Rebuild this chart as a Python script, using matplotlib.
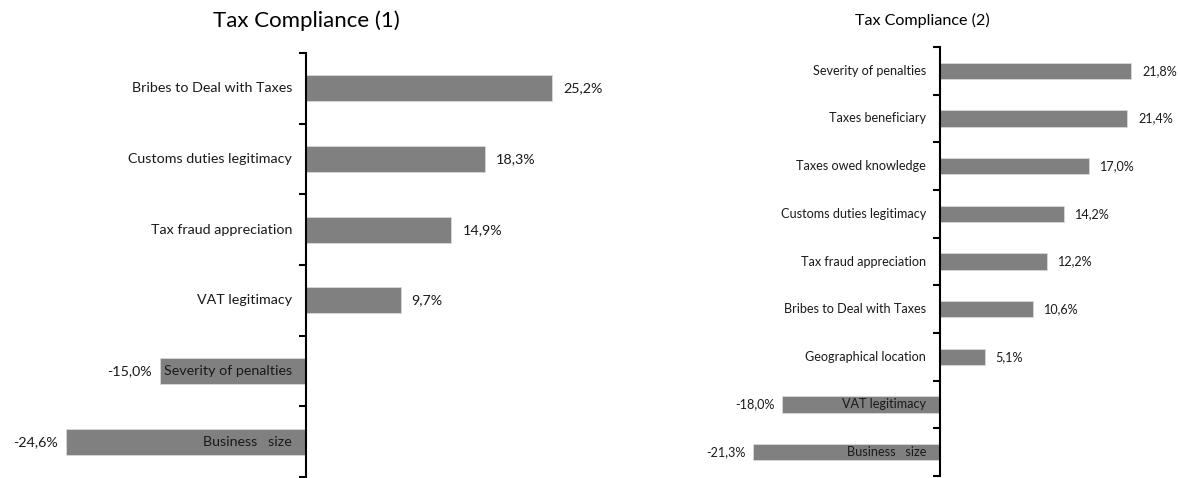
import matplotlib
matplotlib.use('Agg')
import matplotlib.pyplot as plt

plt.rcParams['font.family'] = ['Lato', 'DejaVu Sans']

# Tax Compliance (1)
cats_1 = ['Bribes to Deal with Taxes', 'Customs duties legitimacy', 'Tax fraud appreciation',
          'VAT legitimacy', 'Severity of penalties', 'Business   size']
vals_1 = [25.2, 18.3, 14.9, 9.7, -15.0, -24.6]

# Tax Compliance (2)
cats_2 = ['Severity of penalties', 'Taxes beneficiary', 'Taxes owed knowledge',
          'Customs duties legitimacy', 'Tax fraud appreciation', 'Bribes to Deal with Taxes',
          'Geographical location', 'VAT legitimacy', 'Business   size']
vals_2 = [21.8, 21.4, 17.0, 14.2, 12.2, 10.6, 5.1, -18.0, -21.3]

W, H = 1180, 478
BAR = '#808080'


def fmt(v):
    return f'{v:.1f}'.replace('.', ',') + '%'


def draw_panel(ax, cats, vals, bar_h, fs, px_per_unit):
    n = len(cats)
    ys = list(range(n))
    ax.barh(ys, vals, height=bar_h, color=BAR, edgecolor='#d9d9d9', linewidth=0.6, zorder=2)
    ax.set_ylim(n - 0.5, -0.5)
    gap = 14 / px_per_unit
    for y, c, v in zip(ys, cats, vals):
        ax.text(-gap, y, c, ha='right', va='center', fontsize=fs, color='#1a1a1a', zorder=3)
        if v >= 0:
            ax.text(v + 11 / px_per_unit, y, fmt(v), ha='left', va='center', fontsize=fs, color='#1a1a1a')
        else:
            ax.text(v - 8 / px_per_unit, y, fmt(v), ha='right', va='center', fontsize=fs, color='#1a1a1a')
    for s in ['top', 'right', 'bottom']:
        ax.spines[s].set_visible(False)
    ax.spines['left'].set_position(('data', 0))
    ax.spines['left'].set_linewidth(1.5)
    ax.set_xticks([])
    ax.set_yticks([i - 0.5 for i in range(n + 1)])
    ax.set_yticklabels([])
    ax.tick_params(axis='y', direction='out', length=5, width=1.5)
    ax.patch.set_visible(False)


fig = plt.figure(figsize=(W / 100, H / 100), dpi=100)

# left panel: zero line at x=306 px, 9.76 px per percent
ppu1 = 9.76
ax1 = fig.add_axes([0, 1 / H, 620 / W, (477 - 53) / H])
ax1.set_xlim(-306 / ppu1, (620 - 306) / ppu1)
draw_panel(ax1, cats_1, vals_1, 0.37, 10.3, ppu1)
fig.text(306 / W, 1 - 21 / H, 'Tax Compliance (1)', ha='center', va='center', fontsize=16)

# right panel: zero line at x=940 px, 8.76 px per percent
ppu2 = 8.76
ax2 = fig.add_axes([680 / W, 2 / H, 500 / W, (476 - 47) / H])
ax2.set_xlim(-(940 - 680) / ppu2, (1180 - 940) / ppu2)
draw_panel(ax2, cats_2, vals_2, 0.34, 9.1, ppu2)
fig.text(922 / W, 1 - 20 / H, 'Tax Compliance (2)', ha='center', va='center', fontsize=11.6)

fig.savefig('out.png', dpi=100)
